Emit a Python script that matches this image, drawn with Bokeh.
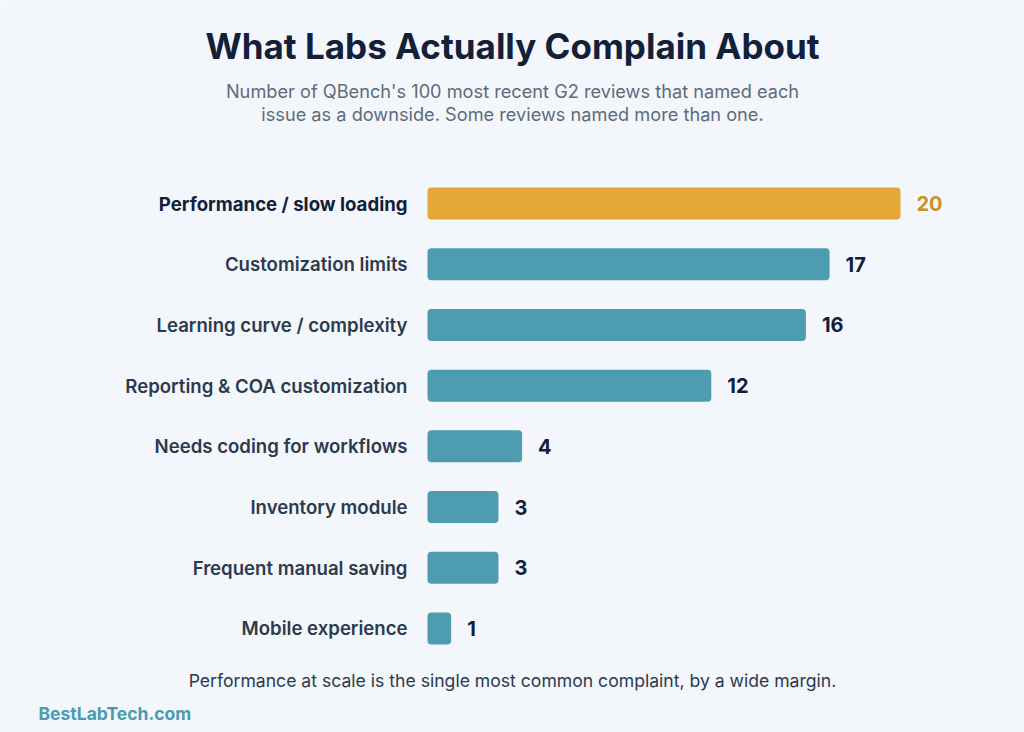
import numpy as np

from bokeh.core.properties import value
from bokeh.embed import file_html
from bokeh.models import ColumnDataSource, Label, Range1d
from bokeh.plotting import figure
from bokeh.resources import INLINE

# data, top to bottom
issues = ["Performance / slow loading", "Customization limits",
          "Learning curve / complexity", "Reporting & COA customization",
          "Needs coding for workflows", "Inventory module",
          "Frequent manual saving", "Mobile experience"]
counts = [20, 17, 16, 12, 4, 3, 3, 1]

title = "What Labs Actually Complain About"
subtitle = ["Number of QBench's 100 most recent G2 reviews that named each",
            "issue as a downside. Some reviews named more than one."]
note = "Performance at scale is the single most common complaint, by a wide margin."
brand = "BestLabTech.com"

BG = "#F3F6FA"
TEAL = "#4E9CB0"
GOLD = "#E2A737"
GOLD_TXT = "#C9912A"
NAVY = "#13203A"
DARK = "#2C3A4E"
GREY = "#5E6B7B"
FONT = "Inter"

W, H = 1024, 732
X0 = 427          # pixel where value 0 sits
XS = 23.65        # px per review
Y0 = 203          # pixel of the first row centre
YS = 60.714       # px per row


def px(xp):
    return (xp - X0) / XS


def py(yp):
    return (yp - Y0) / YS


rows = np.arange(len(issues))
top = rows == 0
src = ColumnDataSource(dict(
    y=rows, n=counts, label=issues, txt=[str(c) for c in counts],
    bar=[GOLD if t else TEAL for t in top],
    ncol=[GOLD_TXT if t else NAVY for t in top],
    lcol=[NAVY if t else DARK for t in top],
    lstyle=["bold" if t else "600" for t in top],
))

p = figure(width=W, height=H, output_backend="svg", toolbar_location=None,
           x_range=Range1d(-X0 / XS, (W - X0) / XS),
           y_range=Range1d((H - Y0) / YS, -Y0 / YS),
           min_border=0, background_fill_color=BG, border_fill_color=BG,
           outline_line_color=None)
p.axis.visible = False
p.grid.visible = False

p.hbar(y="y", left=0, right="n", height=0.527, fill_color="bar",
       line_color=None, border_radius=4, source=src)

p.text(x="n", y="y", text="txt", x_offset=16, text_align="left",
       text_baseline="middle", text_font=value(FONT), text_font_size="20px",
       text_font_style="bold", text_color="ncol", source=src)

p.text(x=0, y="y", text="label", x_offset=-20, text_align="right",
       text_baseline="middle", text_font=value(FONT), text_font_size="18.6px",
       text_font_style="lstyle", text_color="lcol", source=src)

p.add_layout(Label(x=px(512), y=py(45), text=title, text_align="center",
                   text_baseline="middle", text_font=FONT,
                   text_font_size="35px", text_font_style="bold",
                   text_color=NAVY))
for i, line in enumerate(subtitle):
    p.add_layout(Label(x=px(512), y=py(90 + 23 * i), text=line,
                       text_align="center", text_baseline="middle",
                       text_font=FONT, text_font_size="18.2px",
                       text_color=GREY))
p.add_layout(Label(x=px(512), y=py(680), text=note, text_align="center",
                   text_baseline="middle", text_font=FONT,
                   text_font_size="17.6px", text_color=DARK))
p.add_layout(Label(x=px(38), y=py(713), text=brand, text_align="left",
                   text_baseline="middle", text_font=FONT,
                   text_font_size="17.5px", text_font_style="bold",
                   text_color="#4A9BB0"))

open("out.html", "w").write(file_html(p, INLINE))
